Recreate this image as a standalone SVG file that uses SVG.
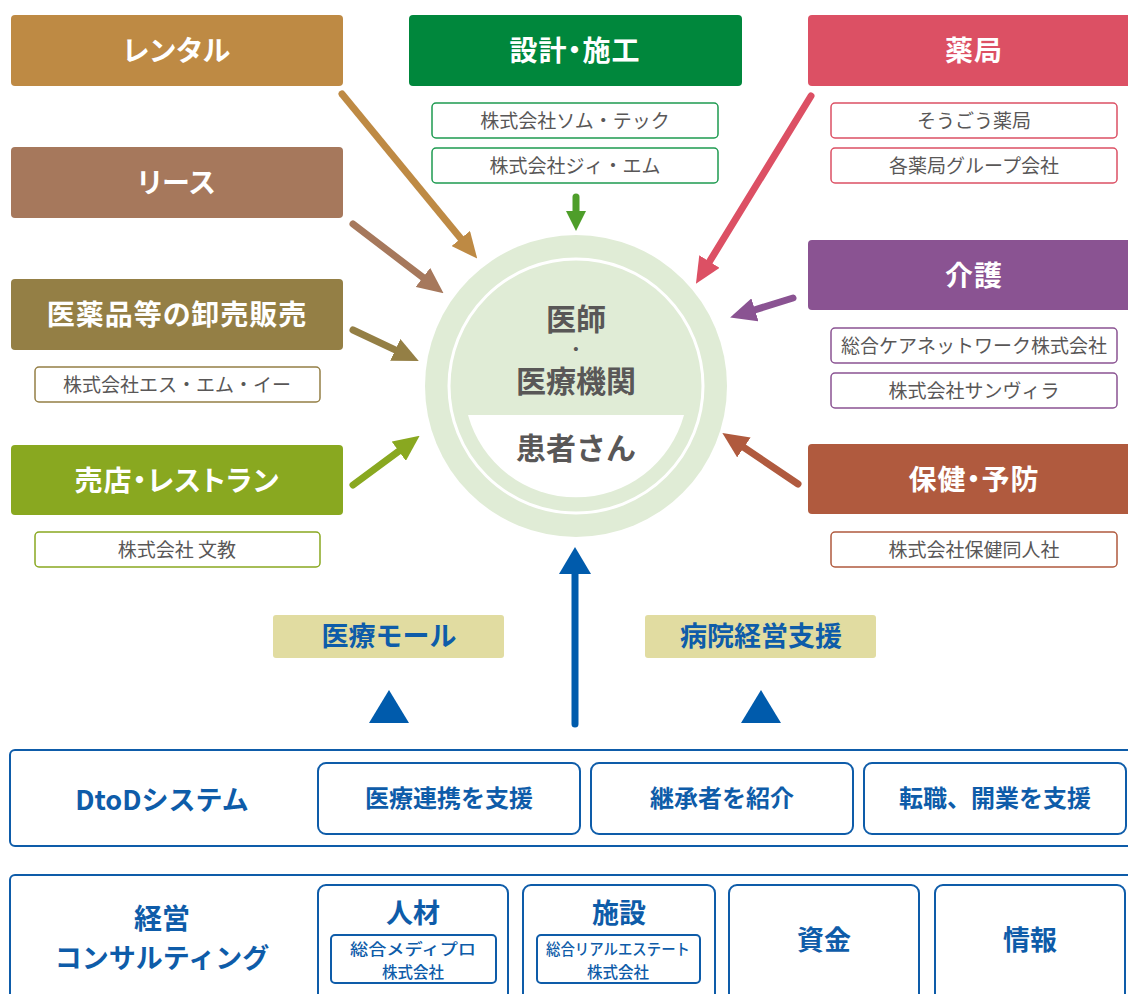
<svg xmlns="http://www.w3.org/2000/svg" width="1128" height="994" viewBox="0 0 1128 994">
<style>
text{font-family:"Noto Sans CJK JP","Noto Sans",sans-serif;text-anchor:middle}
.h{fill:#fff;font-size:28px;font-weight:700;font-feature-settings:"palt";letter-spacing:1px}
.s{fill:#595757;font-size:19px}
.sb{fill:#fff;stroke-width:1.5}
.c{fill:#595757;font-size:30px;font-weight:700}
.b{fill:#0E5CA9;font-weight:700}
.bx{fill:#fff;stroke:#0E5CA9;stroke-width:2}
.ln{fill:none;stroke-width:7;stroke-linecap:round}
</style>
<defs>
<marker id="mR" markerUnits="userSpaceOnUse" markerWidth="26" markerHeight="24" refX="14" refY="12" orient="auto"><path d="M0,0L26,12L0,24Z" fill="#BE8A44"/></marker>
<marker id="mL" markerUnits="userSpaceOnUse" markerWidth="26" markerHeight="24" refX="14" refY="12" orient="auto"><path d="M0,0L26,12L0,24Z" fill="#A6785C"/></marker>
<marker id="mW" markerUnits="userSpaceOnUse" markerWidth="26" markerHeight="24" refX="14" refY="12" orient="auto"><path d="M0,0L26,12L0,24Z" fill="#947F45"/></marker>
<marker id="mS" markerUnits="userSpaceOnUse" markerWidth="26" markerHeight="24" refX="14" refY="12" orient="auto"><path d="M0,0L26,12L0,24Z" fill="#89A820"/></marker>
<marker id="mP" markerUnits="userSpaceOnUse" markerWidth="26" markerHeight="24" refX="14" refY="12" orient="auto"><path d="M0,0L26,12L0,24Z" fill="#DC5064"/></marker>
<marker id="mC" markerUnits="userSpaceOnUse" markerWidth="26" markerHeight="24" refX="14" refY="12" orient="auto"><path d="M0,0L26,12L0,24Z" fill="#8A5392"/></marker>
<marker id="mH" markerUnits="userSpaceOnUse" markerWidth="26" markerHeight="24" refX="14" refY="12" orient="auto"><path d="M0,0L26,12L0,24Z" fill="#B05A3E"/></marker>
<marker id="mG" markerUnits="userSpaceOnUse" markerWidth="20" markerHeight="20" refX="10" refY="10" orient="auto"><path d="M0,0L20,10L0,20Z" fill="#4E9E2A"/></marker>
</defs>
<rect width="1128" height="994" fill="#fff"/>

<g id="center">
<circle cx="576" cy="386" r="151" fill="#E0ECD6"/>
<circle cx="576" cy="386" r="127" fill="none" stroke="#fff" stroke-width="3"/>
<path d="M468,415L684,415A112,112 0 0 1 468,415Z" fill="#fff"/>
<text class="c" x="576" y="330">医師</text>
<text x="576" y="354" style="font-family:'Liberation Sans',sans-serif;font-size:15px;fill:#595757">•</text>
<text class="c" x="576" y="392">医療機関</text>
<text class="c" x="576" y="459">患者さん</text>
</g>

<g id="rental">
<rect x="11" y="15" width="332" height="71" rx="4" fill="#BE8A44"/>
<text class="h" x="177" y="61">レンタル</text>
</g>
<g id="lease">
<rect x="11" y="147" width="332" height="71" rx="4" fill="#A6785C"/>
<text class="h" x="177" y="193">リース</text>
</g>
<g id="wholesale">
<rect x="11" y="279" width="332" height="71" rx="4" fill="#947F45"/>
<text class="h" x="177" y="325">医薬品等の卸売販売</text>
<rect class="sb" x="35" y="367" width="285" height="35" rx="4" stroke="#947F45"/>
<text class="s" x="177" y="392">株式会社エス・エム・イー</text>
</g>
<g id="shop">
<rect x="11" y="445" width="332" height="70" rx="4" fill="#89A820"/>
<text class="h" x="177" y="491">売店・レストラン</text>
<rect class="sb" x="35" y="532" width="285" height="35" rx="4" stroke="#89A820"/>
<text class="s" x="177" y="557">株式会社 文教</text>
</g>
<g id="design">
<rect x="409" y="15" width="333" height="71" rx="4" fill="#00873C"/>
<text class="h" x="575" y="61">設計・施工</text>
<rect class="sb" x="432" y="103" width="286" height="35" rx="4" stroke="#1E9A50"/>
<text class="s" x="575" y="128">株式会社ソム・テック</text>
<rect class="sb" x="432" y="148" width="286" height="35" rx="4" stroke="#1E9A50"/>
<text class="s" x="575" y="173">株式会社ジィ・エム</text>
</g>
<g id="pharmacy">
<rect x="808" y="15" width="330" height="71" rx="4" fill="#DC5064"/>
<text class="h" x="974" y="61">薬局</text>
<rect class="sb" x="831" y="103" width="286" height="35" rx="4" stroke="#DC5064"/>
<text class="s" x="974" y="128">そうごう薬局</text>
<rect class="sb" x="831" y="148" width="286" height="35" rx="4" stroke="#DC5064"/>
<text class="s" x="974" y="173">各薬局グループ会社</text>
</g>
<g id="care">
<rect x="808" y="240" width="330" height="70" rx="4" fill="#8A5392"/>
<text class="h" x="974" y="286">介護</text>
<rect class="sb" x="831" y="328" width="286" height="35" rx="4" stroke="#8A5392"/>
<text class="s" x="974" y="353">総合ケアネットワーク株式会社</text>
<rect class="sb" x="831" y="373" width="286" height="35" rx="4" stroke="#8A5392"/>
<text class="s" x="974" y="398">株式会社サンヴィラ</text>
</g>
<g id="health">
<rect x="808" y="444" width="330" height="70" rx="4" fill="#B05A3E"/>
<text class="h" x="974" y="490">保健・予防</text>
<rect class="sb" x="831" y="532" width="286" height="35" rx="4" stroke="#B05A3E"/>
<text class="s" x="974" y="557">株式会社保健同人社</text>
</g>

<g id="connectors">
<line class="ln" x1="342" y1="94" x2="469.6" y2="249.3" stroke="#BE8A44" marker-end="url(#mR)"/>
<line class="ln" x1="353" y1="224" x2="434" y2="285.9" stroke="#A6785C" marker-end="url(#mL)"/>
<line class="ln" x1="353" y1="330" x2="407.9" y2="355.8" stroke="#947F45" marker-end="url(#mW)"/>
<line class="ln" x1="353" y1="485" x2="410" y2="442.9" stroke="#89A820" marker-end="url(#mS)"/>
<line class="ln" x1="811" y1="96" x2="702.2" y2="273.5" stroke="#DC5064" marker-end="url(#mP)"/>
<line class="ln" x1="793" y1="298" x2="741.6" y2="314" stroke="#8A5392" marker-end="url(#mC)"/>
<line class="ln" x1="798" y1="484" x2="732.3" y2="439.6" stroke="#B05A3E" marker-end="url(#mH)"/>
<line class="ln" x1="576" y1="197" x2="576" y2="221" stroke="#4E9E2A" stroke-width="6" marker-end="url(#mG)"/>
<line x1="575" y1="570" x2="575" y2="724" stroke="#005BAC" stroke-width="7" stroke-linecap="round"/>
<polygon points="575,547 559,574 591,574" fill="#005BAC"/>
<polygon points="389,690 369,723 409,723" fill="#005BAC"/>
<polygon points="761,690 741,723 781,723" fill="#005BAC"/>
</g>

<g id="mall">
<rect x="273" y="615" width="231" height="43" rx="3" fill="#E1DCA1"/>
<text class="b" x="389" y="646" style="font-size:27px">医療モール</text>
</g>
<g id="support">
<rect x="645" y="615" width="231" height="43" rx="3" fill="#E1DCA1"/>
<text class="b" x="761" y="646" style="font-size:27px">病院経営支援</text>
</g>

<g id="dtod">
<rect class="bx" x="10" y="750" width="1130" height="96" rx="5"/>
<text class="b" x="162" y="810" style="font-size:27px">DtoDシステム</text>
<rect class="bx" x="318" y="763" width="262" height="71" rx="8"/>
<text class="b" x="449" y="807" style="font-size:24px">医療連携を支援</text>
<rect class="bx" x="591" y="763" width="262" height="71" rx="8"/>
<text class="b" x="722" y="807" style="font-size:24px">継承者を紹介</text>
<rect class="bx" x="864" y="763" width="262" height="71" rx="8"/>
<text class="b" x="995" y="807" style="font-size:24px">転職、開業を支援</text>
</g>

<g id="consulting">
<rect class="bx" x="10" y="875" width="1130" height="130" rx="5"/>
<text class="b" x="162" y="929" style="font-size:28px">経営</text>
<text class="b" x="162" y="968" style="font-size:27px">コンサルティング</text>
<rect class="bx" x="318" y="885" width="190" height="120" rx="8"/>
<text class="b" x="413" y="923" style="font-size:27px">人材</text>
<rect class="bx" x="331" y="935" width="165" height="48" rx="4" stroke-width="1.5"/>
<text class="b" x="413" y="955" style="font-size:15.5px;font-weight:500" textLength="126" lengthAdjust="spacingAndGlyphs">総合メディプロ</text>
<text class="b" x="413" y="978" style="font-size:15.5px;font-weight:500">株式会社</text>
<rect class="bx" x="523" y="885" width="192" height="120" rx="8"/>
<text class="b" x="619" y="923" style="font-size:27px">施設</text>
<rect class="bx" x="537" y="935" width="163" height="48" rx="4" stroke-width="1.5"/>
<text class="b" x="618" y="955" style="font-size:15.5px;font-weight:500" textLength="144" lengthAdjust="spacingAndGlyphs">総合リアルエステート</text>
<text class="b" x="618" y="978" style="font-size:15.5px;font-weight:500">株式会社</text>
<rect class="bx" x="729" y="885" width="190" height="120" rx="8"/>
<text class="b" x="824" y="950" style="font-size:27px">資金</text>
<rect class="bx" x="935" y="885" width="190" height="120" rx="8"/>
<text class="b" x="1030" y="950" style="font-size:27px">情報</text>
</g>
</svg>
